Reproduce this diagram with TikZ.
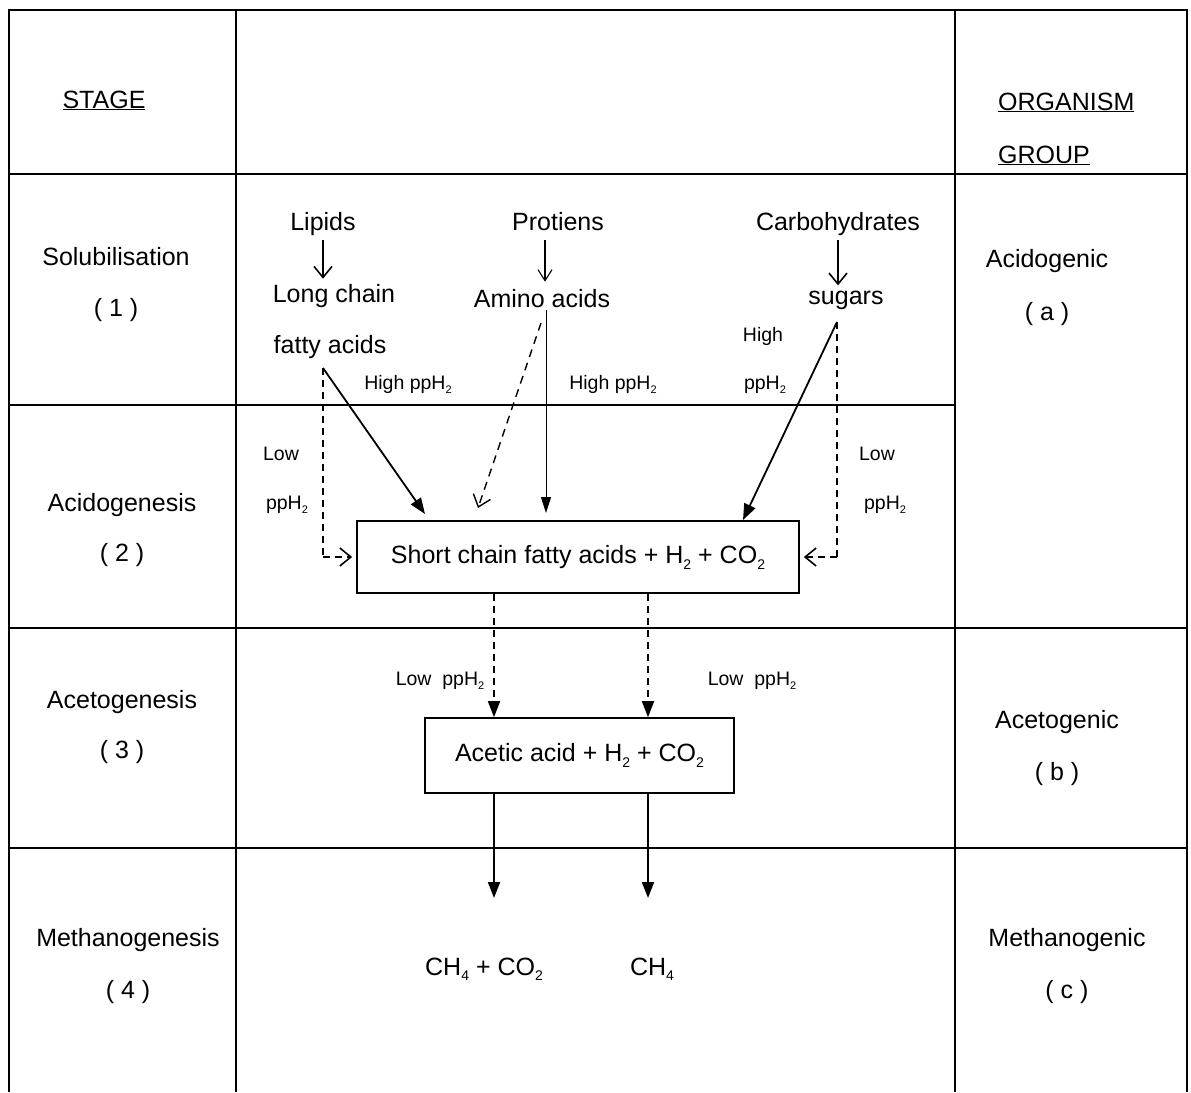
\documentclass[tikz,border=0pt]{standalone}
\usepackage{fontspec}
\setmainfont{Liberation Sans}
\usetikzlibrary{arrows.meta}
\newcommand\sbs[1]{\raisebox{-0.45ex}{\fontsize{14}{14}\selectfont #1}}
\newcommand\sbss[1]{\raisebox{-0.45ex}{\fontsize{11}{11}\selectfont #1}}
\begin{document}
\begin{tikzpicture}[x=1pt,y=-1pt,
  tline/.style={line width=1.7pt},
  lbl/.style={inner sep=0pt, anchor=base, font=\fontsize{25}{29}\selectfont},
  sml/.style={inner sep=0pt, anchor=base, font=\fontsize{19.5}{23}\selectfont},
  rbox/.style={draw, line width=1.7pt, inner sep=0pt, font=\fontsize{25}{29}\selectfont},
  farr/.style={line width=1.8pt, -{Triangle[length=16pt,width=12pt]}},
  thinarr/.style={line width=1pt, -{Triangle[length=16pt,width=10pt]}},
  darr/.style={line width=1.6pt, dash pattern=on 7pt off 5pt},
  oarr/.style={line width=1.6pt, -{Straight Barb[length=11pt,width=18pt]}},
]
\useasboundingbox (0,0) rectangle (1191,1092);
\fill[white] (0,0) rectangle (1191,1092);
% table
\draw[tline] (9,1092) -- (9,10) -- (1187,10) -- (1187,1092);
\draw[tline] (236,10) -- (236,1092);
\draw[tline] (955,10) -- (955,1092);
\draw[tline] (9,174) -- (1187,174);
\draw[tline] (9,405) -- (955,405);
\draw[tline] (9,628) -- (1187,628);
\draw[tline] (9,848) -- (1187,848);
% left column
\node[lbl] (stage) at (104,108) {\underline{STAGE}};
\node[lbl] (s1) at (116,265) {Solubilisation};
\node[lbl] (s1n) at (116,316) {( 1 )};
\node[lbl] (s2) at (122,511) {Acidogenesis};
\node[lbl] (s2n) at (122,561) {( 2 )};
\node[lbl] (s3) at (122,708) {Acetogenesis};
\node[lbl] (s3n) at (122,758) {( 3 )};
\node[lbl] (s4) at (128,946) {Methanogenesis};
\node[lbl] (s4n) at (128,998) {( 4 )};
% right column
\node[lbl, anchor=base west] (org) at (998,110) {\underline{ORGANISM}};
\node[lbl, anchor=base west] (grp) at (998,163) {\underline{GROUP}};
\node[lbl] (g1) at (1047,267) {Acidogenic};
\node[lbl] (g1n) at (1047,320) {( a )};
\node[lbl] (g2) at (1057,728) {Acetogenic};
\node[lbl] (g2n) at (1057,780) {( b )};
\node[lbl] (g3) at (1067,946) {Methanogenic};
\node[lbl] (g3n) at (1067,998) {( c )};
% middle: substrates
\node[lbl] (lip) at (323,230) {Lipids};
\node[lbl] (lc) at (334,302) {Long chain};
\node[lbl] (fa) at (330,353) {fatty acids};
\node[lbl] (prot) at (558,230) {Protiens};
\node[lbl] (aa) at (542,307) {Amino acids};
\node[lbl] (carb) at (838,230) {Carbohydrates};
\node[lbl] (sug) at (846,304) {sugars};
\coordinate (x0) at (545,0);
\draw[oarr, shorten <=10pt, shorten >=5pt] (lip.base) -- (lip.base |- lc.north);
\draw[line width=1.1pt, -{Straight Barb[length=11pt,width=14pt]}, shorten <=10pt, shorten >=7pt] (prot.base -| x0) -- (x0 |- aa.north);
\draw[oarr, shorten <=10pt, shorten >=5pt] (carb.base) -- (carb.base |- sug.north);
% labels
\node[sml] (h1) at (408,389) {High ppH\sbss{2}};
\node[sml] (h2) at (613,389) {High ppH\sbss{2}};
\node[sml] (h3a) at (763,341) {High};
\node[sml] (h3b) at (765,389) {ppH\sbss{2}};
\node[sml] (l1a) at (281,460) {Low};
\node[sml] (l1b) at (287,509) {ppH\sbss{2}};
\node[sml] (l2a) at (877,460) {Low};
\node[sml] (l2b) at (885,509) {ppH\sbss{2}};
\node[sml] (l3) at (440,685) {Low\ \ ppH\sbss{2}};
\node[sml] (l4) at (752,685) {Low\ \ ppH\sbss{2}};
% boxes
\node[rbox, minimum width=442pt, minimum height=72pt] (b1) at (578,557) {Short chain fatty acids + H\sbs{2} + CO\sbs{2}};
\node[rbox, minimum width=309pt, minimum height=75pt] (b2) at (579.5,755.5) {Acetic acid + H\sbs{2} + CO\sbs{2}};
\node[lbl] (p1) at (484,975) {CH\sbs{4} + CO\sbs{2}};
\node[lbl] (p2) at (652,975) {CH\sbs{4}};
% connector points
\coordinate (fs) at (323,368);
\coordinate (fsd) at (323,557);
\coordinate (aas) at (546,310);
\coordinate (aad) at (541,323);
\coordinate (sgs) at (837,322);
\coordinate (sgd) at (837,557);
\coordinate (t1) at (425,514);
\coordinate (t2) at (478,508);
\coordinate (t3) at (546,513);
\coordinate (t4) at (743,520);
\coordinate (x1) at (494,0);
\coordinate (x2) at (648,0);
\coordinate (m1) at (494,898);
\coordinate (m2) at (648,898);
% connectors into box 1
\draw[farr] (fs) -- (t1);
\draw[darr] (fs) -- (fsd);
\draw[oarr, dash pattern=on 7pt off 5pt] (fsd) -- ([xshift=-4pt]b1.west);
\draw[oarr, line width=1.4pt, dash pattern=on 8pt off 6pt] (aad) -- (t2);
\draw[thinarr] (aas) -- (t3);
\draw[farr] (sgs) -- (t4);
\draw[darr] (sgs) -- (sgd);
\draw[oarr, dash pattern=on 7pt off 5pt] (sgd) -- ([xshift=4pt]b1.east);
% box 1 to box 2
\draw[farr, dash pattern=on 7pt off 5pt] (b1.south -| x1) -- (b2.north -| x1);
\draw[farr, dash pattern=on 7pt off 5pt] (b1.south -| x2) -- (b2.north -| x2);
% box 2 to products
\draw[farr] (b2.south -| x1) -- (m1);
\draw[farr] (b2.south -| x2) -- (m2);
\end{tikzpicture}
\end{document}
